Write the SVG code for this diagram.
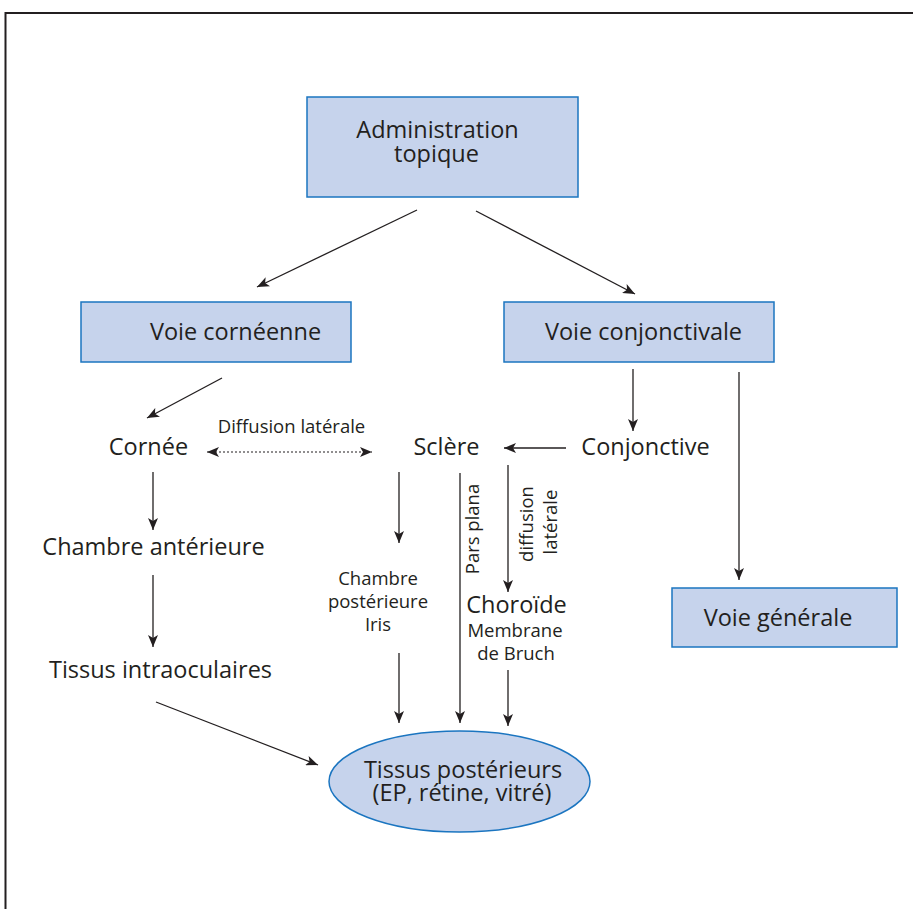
<svg xmlns="http://www.w3.org/2000/svg" width="913" height="909" viewBox="0 0 913 909">
  <style>
    .box { fill: #c6d3ec; stroke: #1b75c0; stroke-width: 1.5; }
    .big { font-family: "Open Sans", "Noto Sans", sans-serif; font-size: 23.5px; fill: #231f20; text-anchor: middle; }
    .small { font-family: "Open Sans", "Noto Sans", sans-serif; font-size: 18.5px; fill: #231f20; text-anchor: middle; }
    .edge { fill: none; stroke: #231f20; stroke-width: 1.3; }
    .dotted { fill: none; stroke: #231f20; stroke-width: 1.2; stroke-dasharray: 2 2; }
    .frame { fill: none; stroke: #231f20; stroke-width: 2; }
  </style>
  <defs>
    <marker id="arrow" viewBox="0 0 12 10" refX="12" refY="5" markerWidth="12" markerHeight="10" markerUnits="userSpaceOnUse" orient="auto">
      <path d="M0,0 L12,5 L0,10 L3,5 z" fill="#231f20"/>
    </marker>
    <marker id="arrowStart" viewBox="0 0 12 10" refX="0" refY="5" markerWidth="12" markerHeight="10" markerUnits="userSpaceOnUse" orient="auto">
      <path d="M12,0 L0,5 L12,10 L9,5 z" fill="#231f20"/>
    </marker>
  </defs>

  <rect width="913" height="909" fill="#ffffff"/>
  <!-- outer frame (top and left edges) -->
  <path class="frame" d="M5.5,909 L5.5,13 L913,13"/>

  <g id="connectors">
    <line class="edge" x1="417" y1="210" x2="257" y2="287" marker-end="url(#arrow)"/>
    <line class="edge" x1="476" y1="211" x2="635" y2="294" marker-end="url(#arrow)"/>
    <line class="edge" x1="222" y1="378" x2="147" y2="418" marker-end="url(#arrow)"/>
    <line class="dotted" x1="207" y1="452" x2="372" y2="452" marker-start="url(#arrowStart)" marker-end="url(#arrow)"/>
    <line class="edge" x1="153" y1="472" x2="153" y2="530" marker-end="url(#arrow)"/>
    <line class="edge" x1="153" y1="575" x2="153" y2="647" marker-end="url(#arrow)"/>
    <line class="edge" x1="156" y1="702" x2="318" y2="765" marker-end="url(#arrow)"/>
    <line class="edge" x1="633" y1="369" x2="633" y2="431" marker-end="url(#arrow)"/>
    <line class="edge" x1="739" y1="372" x2="739" y2="580" marker-end="url(#arrow)"/>
    <line class="edge" x1="566" y1="448" x2="504" y2="448" marker-end="url(#arrow)"/>
    <line class="edge" x1="399" y1="472" x2="399" y2="543" marker-end="url(#arrow)"/>
    <line class="edge" x1="460" y1="473" x2="460" y2="723" marker-end="url(#arrow)"/>
    <line class="edge" x1="508" y1="465" x2="508" y2="592" marker-end="url(#arrow)"/>
    <line class="edge" x1="399" y1="653" x2="399" y2="723" marker-end="url(#arrow)"/>
    <line class="edge" x1="508" y1="670" x2="508" y2="726" marker-end="url(#arrow)"/>
    <text class="small" x="291.5" y="433">Diffusion latérale</text>
    <text class="small" transform="translate(479,529) rotate(-90)" x="0" y="0">Pars plana</text>
    <text class="small" transform="translate(533,524) rotate(-90)" x="0" y="0">diffusion</text>
    <text class="small" transform="translate(557,522) rotate(-90)" x="0" y="0">latérale</text>
  </g>

  <g id="administration-topique">
    <rect class="box" x="307" y="97" width="271" height="100"/>
    <text class="big" y="138"><tspan x="437.5">Administration</tspan><tspan x="436.5" dy="24">topique</tspan></text>
  </g>
  <g id="voie-corneenne">
    <rect class="box" x="81" y="302" width="270" height="60"/>
    <text class="big" x="235.5" y="340">Voie cornéenne</text>
  </g>
  <g id="voie-conjonctivale">
    <rect class="box" x="504" y="302" width="270" height="60"/>
    <text class="big" x="643.5" y="340">Voie conjonctivale</text>
  </g>
  <g id="voie-generale">
    <rect class="box" x="672" y="588" width="225" height="59"/>
    <text class="big" x="778" y="626">Voie générale</text>
  </g>
  <g id="cornee">
    <text class="big" x="148.5" y="455">Cornée</text>
  </g>
  <g id="sclere">
    <text class="big" x="446.5" y="455">Sclère</text>
  </g>
  <g id="conjonctive">
    <text class="big" x="645.5" y="455">Conjonctive</text>
  </g>
  <g id="chambre-anterieure">
    <text class="big" x="153.5" y="555">Chambre antérieure</text>
  </g>
  <g id="tissus-intraoculaires">
    <text class="big" x="160.5" y="678">Tissus intraoculaires</text>
  </g>
  <g id="chambre-posterieure">
    <text class="small" y="585"><tspan x="378">Chambre</tspan><tspan x="378" dy="23">postérieure</tspan><tspan x="378" dy="23">Iris</tspan></text>
  </g>
  <g id="choroide">
    <text class="big" y="613"><tspan x="516.5">Choroïde</tspan><tspan class="small" x="515" dy="24">Membrane</tspan><tspan class="small" x="516" dy="23">de Bruch</tspan></text>
  </g>
  <g id="tissus-posterieurs">
    <ellipse class="box" cx="459.5" cy="781.5" rx="130.5" ry="50.5"/>
    <text class="big" y="778"><tspan x="463">Tissus postérieurs</tspan><tspan x="462" dy="23">(EP, rétine, vitré)</tspan></text>
  </g>
</svg>
